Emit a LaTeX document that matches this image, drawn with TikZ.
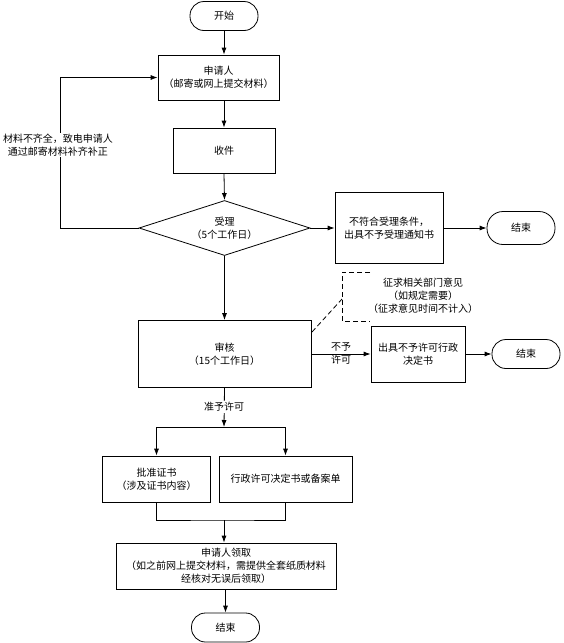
\documentclass[tikz,border=0pt]{standalone}
\usepackage{fontspec}
\setmainfont{Noto Sans CJK SC}
\usetikzlibrary{shapes.geometric,arrows.meta}
\begin{document}
\begin{tikzpicture}[x=1pt,y=-1pt,font=\fontsize{10}{13}\selectfont,line width=0.8pt]
	\tikzstyle{box}=[draw,align=center,inner sep=2pt]
	\tikzstyle{term}=[draw,rounded corners=14pt,minimum width=68pt,minimum height=29pt]
	\tikzstyle{arr}=[-{Latex[length=7pt,width=5pt]}]
	\useasboundingbox (0,0) rectangle (563,643);
	\node[term] (t_0) at (224,16) {开始};
	\node[box,minimum width=121pt,minimum height=45pt] (s_1) at (218.5,77.5) {申请人\\（邮寄或网上提交材料）};
	\node[box,minimum width=102pt,minimum height=45pt] (s_2) at (224,150.5) {收件};
	\node[draw,diamond,aspect=3.1,inner sep=0pt,minimum width=171pt,minimum height=55pt,align=center] (d_1) at (224.5,228) {受理\\（5个工作日）};
	\node[box,minimum width=108pt,minimum height=71pt] (r_1) at (389,228) {不符合受理条件，\\出具不予受理通知书};
	\node[term,rounded corners=16pt,minimum height=33pt] (t_1) at (521,228) {结束};
	\node[align=center] (n_1) at (423,296) {征求相关部门意见\\（如规定需要）\\（征求意见时间不计入）};
	\node[box,minimum width=173pt,minimum height=67pt] (v_1) at (224.5,354) {审核\\（15个工作日）};
	\node[box,minimum width=94pt,minimum height=56pt] (r_2) at (418,354) {出具不予许可行政\\决定书};
	\node[term] (t_2) at (526,354) {结束};
	\node[align=center] (l_2) at (341,353) {不予\\许可};
	\node[box,minimum width=108pt,minimum height=46pt] (b_1) at (156.5,479) {批准证书\\（涉及证书内容）};
	\node[box,minimum width=133pt,minimum height=46pt] (b_2) at (285.5,479) {行政许可决定书或备案单};
	\node[box,minimum width=220pt,minimum height=46pt] (c_1) at (226,566) {申请人领取\\（如之前网上提交材料，需提供全套纸质材料\\经核对无误后领取）};
	\node[term] (t_3) at (225.5,627.5) {结束};
	\coordinate (k_1) at (60,228);
	\coordinate (k_2) at (312,332);
	\coordinate (k_3) at (342,299);
	\coordinate (k_6) at (224,427);
	\coordinate (k_7) at (224,520);
	\draw[arr] (t_0.south) -- (t_0.south |- s_1.north);
	\draw[arr] (s_2.north |- s_1.south) -- (s_2.north);
	\draw[arr] (s_2.south) -- (d_1.north);
	\draw[arr] (d_1.south) -- (v_1.north);
	\draw[arr] (d_1.east) -- (r_1.west);
	\draw[arr] (r_1.east) -- (t_1.west);
	\draw[arr] (d_1.west) -- (k_1) |- (s_1.west);
	\node[fill=white,align=center,inner sep=1pt] (l_1) at (58,145) {材料不齐全，致电申请人\\通过邮寄材料补齐补正};
	\draw[arr] (v_1.east) -- (r_2.west);
	\draw[arr] (r_2.east) -- (t_2.west);
	\draw[dash pattern=on 5pt off 3pt] (k_2) -- (k_3);
	\draw[dash pattern=on 5pt off 3pt] (370,272) -- (342,272) -- (342,321) -- (370,321);
	\draw[arr] (v_1.south) -- (k_6);
	\node[fill=white,inner sep=1pt] (l_3) at (224,407) {准予许可};
	\draw[arr] (k_6) -| (b_1.north);
	\draw[arr] (k_6) -| (b_2.north);
	\draw (b_1.south) |- (k_7) -| (b_2.south);
	\draw[arr] (k_7) -- (k_7 |- c_1.north);
	\draw[arr] (t_3.north |- c_1.south) -- (t_3.north);
\end{tikzpicture}
\end{document}
